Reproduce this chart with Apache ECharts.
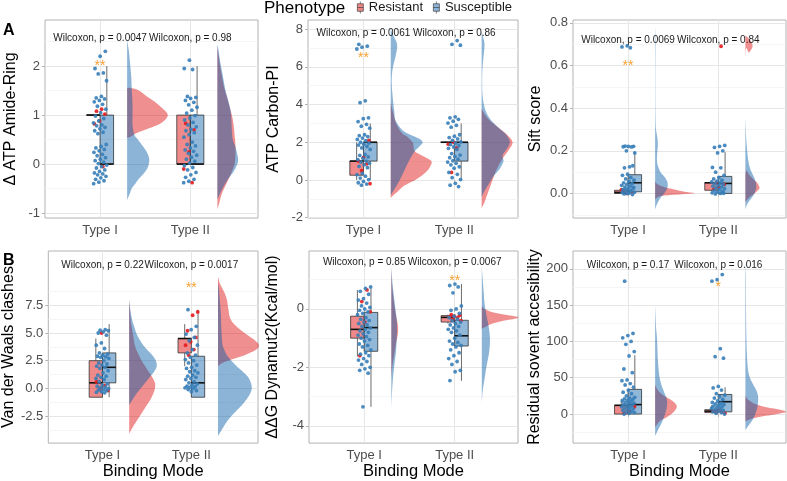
<!DOCTYPE html>
<html><head><meta charset="utf-8">
<script src="https://cdn.jsdelivr.net/npm/echarts@6.0.0/dist/echarts.min.js"></script>
<style>html,body{margin:0;padding:0;background:#fff}#c{width:787px;height:481px}</style>
</head><body><div id="c"></div><script>
// ---------- data ----------
const categories = ['Type I', 'Type II'];
const phenotypes = ['Resistant', 'Susceptible'];
const yTitles = ['Δ ATP Amide-Ring', 'ATP Carbon-PI', 'Sift score', 'Van der Waals clashes', 'ΔΔG Dynamut2(Kcal/mol)', 'Residual sovent accesibility'];
const yTicks = [[-1,0,1,2],[-2,0,2,4,6,8],[0,0.2,0.4,0.6,0.8],[-2.5,0,2.5,5,7.5],[-4,-2,0],[0,50,100,150,200]];
const yTickLabels = [['-1','0','1','2'],['-2','0','2','4','6','8'],['0.0','0.2','0.4','0.6','0.8'],['-2.5','0.0','2.5','5.0','7.5'],['-4','-2','0'],['0','50','100','150','200']];
const yMinor = [[-0.5,0.5,1.5,2.5],[-1,1,3,5,7],[-0.1,0.1,0.3,0.5,0.7],[-3.75,-1.25,1.25,3.75,6.25,8.75],[-3,-1,1],[-25,25,75,125,175]];
const pValues = [['0.0047','0.98'],['0.0061','0.86'],['0.0069','0.84'],['0.22','0.0017'],['0.85','0.0067'],['0.17','0.016']];
const pLabelY = [2.57, 7.78, 0.72, 11.1, 1.59, 204.5];
const signif = [[0,1,2.07,'**'],[1,1,6.7,'**'],[2,1,0.615,'**'],[3,2,9.4,'**'],[4,2,1.09,'**'],[5,2,180,'*']];

// points: [TypeI Resistant, TypeI Susceptible, TypeII Resistant, TypeII Susceptible]
const amideRingPoints = [
  [1.12,1.08,1.02,0.88,0.82,-0.05],
  [2.3,2.2,1.95,1.86,1.84,1.7,1.38,1.35,1.33,1.3,1.27,1.22,1.18,1.12,1.05,0.98,0.93,0.88,0.84,0.8,0.78,0.75,0.72,0.68,0.65,0.62,0.4,0.36,0.33,0.3,0.27,0.24,0.2,0.17,0.13,0.1,0.07,0.04,0.01,-0.02,-0.05,-0.08,-0.12,-0.15,-0.18,-0.2,-0.22,-0.25,-0.28,-0.31,-0.34,-0.37,-0.4],
  [0.83,0.7,0.25,-0.1,-0.38],
  [2.12,1.95,1.93,1.38,1.36,1.34,1.3,1.26,1.21,1.16,1.1,1.04,0.99,0.94,0.9,0.85,0.8,0.76,0.71,0.68,0.64,0.6,0.55,0.45,0.4,0.37,0.33,0.29,0.26,0.22,0.18,0.14,0.1,0.06,0.02,-0.03,-0.07,-0.12,-0.17,-0.22,-0.27,-0.31,-0.35,-0.38]
];
const carbonPiPoints = [
  [2.1,1.2,1.0,0.85,0.5,-0.2],
  [7.2,7.1,7.05,6.95,4.2,4.1,3.3,3.25,3.1,2.95,2.85,2.75,2.4,2.35,2.3,2.22,2.15,2.08,2.0,1.95,1.9,1.85,1.78,1.7,1.62,1.35,1.3,1.22,1.15,1.08,1.0,0.95,0.88,0.8,0.72,0.65,0.35,0.28,0.2,0.1,0.02,-0.08,-0.15,-0.22,-0.28],
  [2.0,1.9,1.7,0.4],
  [7.4,7.2,7.15,3.35,3.3,3.22,3.12,3.02,2.9,2.8,2.4,2.32,2.25,2.18,2.1,2.02,1.95,1.88,1.82,1.75,1.68,1.62,1.4,1.32,1.25,1.18,1.1,1.02,0.95,0.88,0.8,0.7,0.62,0.4,0.3,0.12,0.02,-0.18,-0.28,-0.35]
];
const siftPoints = [
  [0.012,0.006,0.0,0.018],
  [0.692,0.687,0.683,0.222,0.221,0.22,0.219,0.218,0.2,0.19,0.125,0.12,0.13,0.09,0.085,0.075,0.068,0.062,0.056,0.05,0.046,0.042,0.038,0.034,0.03,0.026,0.022,0.018,0.014,0.01,0.006,0.002,-0.002,-0.005,0.0,0.004,0.012,0.02,0.028],
  [0.69,0.05,0.042,0.03,0.02],
  [0.225,0.221,0.216,0.2,0.19,0.122,0.12,0.1,0.085,0.075,0.068,0.062,0.058,0.054,0.05,0.046,0.042,0.038,0.034,0.03,0.026,0.022,0.018,0.014,0.01,0.006,0.003,0.0,-0.002,0.001]
];
const vdwPoints = [
  [5.0,0.6,0.25,-0.05,-0.2],
  [5.3,5.25,5.2,5.1,5.0,4.8,4.1,3.9,3.6,3.2,3.1,3.0,2.9,2.85,2.8,2.7,2.5,2.3,2.2,2.1,2.0,1.9,1.8,1.6,1.4,1.2,1.1,1.0,0.9,0.8,0.6,0.4,0.3,0.2,0.1,0.05,0.0,-0.1,-0.15,-0.2,-0.3,-0.35,-0.4],
  [6.9,6.6,5.2,4.6,4.2,3.9,3.5,3.0],
  [7.1,5.6,5.3,4.9,4.6,4.3,3.9,3.5,3.2,3.0,2.8,2.6,2.5,2.3,2.1,1.9,1.8,1.6,1.5,1.4,1.2,1.1,1.0,0.9,0.8,0.6,0.5,0.4,0.3,0.2,0.15,0.1,0.05,0.0,-0.1,-0.2,-0.3]
];
const ddgPoints = [
  [0.65,0.25,-0.1,-0.45,-1.6],
  [0.75,0.7,0.6,0.5,0.35,0.3,0.2,0.1,0.05,0.0,-0.05,-0.1,-0.15,-0.2,-0.3,-0.35,-0.4,-0.45,-0.5,-0.55,-0.6,-0.65,-0.7,-0.75,-0.8,-0.85,-0.9,-0.95,-1.0,-1.05,-1.1,-1.2,-1.25,-1.3,-1.4,-1.5,-1.55,-1.6,-1.7,-1.75,-1.8,-1.9,-2.0,-2.05,-2.1,-2.2,-3.35],
  [-0.2,-0.22,-0.25,-0.28,-0.3,-0.35,-0.4],
  [0.85,0.8,0.75,0.55,0.1,0.0,-0.05,-0.15,-0.25,-0.3,-0.35,-0.4,-0.45,-0.5,-0.55,-0.6,-0.65,-0.7,-0.75,-0.8,-0.9,-1.0,-1.1,-1.15,-1.2,-1.25,-1.3,-1.4,-1.5,-1.6,-1.7,-1.8,-1.9,-2.1,-2.15,-2.45]
];
const rsaPoints = [
  [10,4,1],
  [183,111,108,105,100,96,86,80,62,57,47,46,42,40,37,33,30,28,25,23,22,21,20,19,18,17,16,15,14,13,12,11,10,9,8,7,6,5,4,3,2,1,0],
  [5,4,3,2,1],
  [192,185,183,90,79,77,38,36,33,28,26,24,22,20,18,16,15,14,13,12,11,10,9,8,7,6,5,4,3,2,1,0]
];

// box stats [min, q1, median, q3, max]
const amideRingBoxes = [[1,1,1,1,1],[0,0,0,1,2],[0,0,0,1,1],[0,0,0,1,2]];
const carbonPiBoxes = [[0,0.25,1,1,2],[0,1,2,2,3],[2,2,2,2,2],[0,1,2,2,3]];
const siftBoxes = [[0,0,0.005,0.015,0.02],[0,0.008,0.05,0.088,0.194],[0.01,0.015,0.05,0.051,0.06],[0,0,0.047,0.08,0.194]];
const vdwBoxes = [[-0.8,-0.8,0.5,2.5,4.5],[-0.8,0.5,1.9,3.2,5.8],[2.0,3.2,4.5,4.5,5.8],[-0.8,-0.8,0.5,2.9,7.1]];
const ddgBoxes = [[-1.63,-1.0,-0.7,-0.25,0.65],[-3.35,-1.45,-0.64,-0.12,0.71],[-0.5,-0.45,-0.29,-0.23,-0.2],[-2.46,-1.27,-0.92,-0.39,0.85]];
const rsaBoxes = [[0,0,12,12,21],[0,0,13,34,81],[1,2,4,6,12],[0,3,17,27,37]];

// half-violin densities [value, width]
const amideRingViolins = [
  [[0.53,0],[0.56,0.04],[0.63,0.1],[0.7,0.2],[0.77,0.3],[0.83,0.37],[0.92,0.43],[1.0,0.45],[1.07,0.43],[1.14,0.39],[1.22,0.34],[1.28,0.3],[1.38,0.22],[1.45,0.17],[1.5,0.13],[1.54,0.08],[1.56,0]],
  [[-0.73,0],[-0.6,0.03],[-0.5,0.05],[-0.4,0.09],[-0.3,0.13],[-0.2,0.18],[-0.1,0.22],[0,0.24],[0.1,0.245],[0.2,0.23],[0.3,0.2],[0.4,0.16],[0.5,0.12],[0.6,0.08],[0.8,0.06],[1.0,0.06],[1.2,0.06],[1.4,0.055],[1.6,0.05],[1.8,0.045],[2.0,0.035],[2.3,0.02],[2.53,0]],
  [[-0.92,0],[-0.8,0.02],[-0.6,0.05],[-0.4,0.1],[-0.2,0.15],[0,0.19],[0.2,0.2],[0.4,0.2],[0.6,0.19],[0.8,0.18],[1.0,0.16],[1.2,0.13],[1.4,0.1],[1.6,0.07],[1.8,0.05],[2.0,0.03],[2.2,0.015],[2.4,0]],
  [[-0.72,0],[-0.6,0.03],[-0.45,0.07],[-0.3,0.12],[-0.15,0.18],[0,0.22],[0.1,0.23],[0.2,0.22],[0.35,0.2],[0.5,0.17],[0.7,0.16],[0.9,0.155],[1.1,0.145],[1.3,0.12],[1.5,0.09],[1.7,0.07],[1.9,0.05],[2.1,0.03],[2.3,0.015],[2.45,0]]
];
const carbonPiViolins = [
  [[-0.97,0],[-0.9,0.01],[-0.6,0.08],[-0.3,0.15],[0,0.27],[0.3,0.36],[0.6,0.42],[0.97,0.45],[1.2,0.38],[1.5,0.27],[1.8,0.25],[2.0,0.24],[2.3,0.18],[2.5,0.12],[3.0,0.06],[3.5,0.03],[4.1,0]],
  [[-0.8,0],[-0.5,0.04],[0,0.1],[0.5,0.15],[1.0,0.2],[1.5,0.26],[1.8,0.32],[2.0,0.35],[2.2,0.31],[2.5,0.17],[2.8,0.1],[3.2,0.05],[3.6,0.04],[4.0,0.03],[4.5,0.02],[5.0,0.012],[5.5,0.012],[6.0,0.025],[6.5,0.05],[7.0,0.07],[7.3,0.065],[7.6,0.035],[8.0,0]],
  [[-1.5,0],[-1.2,0.03],[-0.8,0.06],[-0.4,0.09],[0,0.12],[0.4,0.15],[0.8,0.19],[1.2,0.24],[1.6,0.3],[2.0,0.34],[2.4,0.28],[2.8,0.18],[3.2,0.08],[3.6,0.02],[3.8,0]],
  [[-0.9,0],[-0.6,0.03],[-0.2,0.08],[0.2,0.13],[0.6,0.2],[1.0,0.24],[1.3,0.23],[1.6,0.27],[2.0,0.31],[2.4,0.27],[2.8,0.18],[3.2,0.1],[3.6,0.05],[4.0,0.025],[4.5,0.01],[5.0,0.006],[5.5,0.006],[6.0,0.01],[6.5,0.02],[7.0,0.03],[7.3,0.03],[7.6,0.015],[7.9,0]]
];
const siftViolins = [
  [[-0.03,0],[-0.02,0.02],[-0.01,0.1],[0,0.42],[0.005,0.38],[0.01,0.3],[0.02,0.2],[0.03,0.1],[0.04,0.04],[0.05,0.01],[0.06,0]],
  [[-0.075,0],[-0.05,0.02],[-0.02,0.06],[0,0.1],[0.02,0.13],[0.04,0.14],[0.06,0.13],[0.08,0.1],[0.1,0.06],[0.13,0.03],[0.16,0.02],[0.2,0.025],[0.23,0.03],[0.26,0.025],[0.3,0.01],[0.35,0.005],[0.45,0.003],[0.6,0.003],[0.7,0.005],[0.75,0.003],[0.78,0]],
  [[-0.04,0],[-0.02,0.04],[0,0.1],[0.02,0.15],[0.03,0.155],[0.05,0.13],[0.07,0.08],[0.09,0.04],[0.11,0.015],[0.14,0],[0.64,0],[0.66,0.04],[0.69,0.08],[0.72,0.05],[0.74,0]],
  [[-0.075,0],[-0.05,0.02],[-0.02,0.07],[0,0.1],[0.03,0.12],[0.06,0.11],[0.09,0.08],[0.12,0.05],[0.16,0.03],[0.2,0.02],[0.25,0.01],[0.3,0.005],[0.35,0]]
];
const vdwViolins = [
  [[-4.1,0],[-3.5,0.04],[-3,0.08],[-2.5,0.12],[-2,0.16],[-1.5,0.2],[-1,0.24],[-0.5,0.27],[0,0.29],[0.5,0.29],[1,0.26],[1.5,0.22],[2,0.18],[2.5,0.14],[3,0.11],[3.5,0.08],[4,0.06],[4.5,0.05],[5,0.04],[5.5,0.03],[6,0.02],[7,0.01],[8,0]],
  [[-1.5,0],[-1,0.04],[-0.5,0.08],[0,0.13],[0.5,0.18],[1,0.23],[1.5,0.28],[2,0.31],[2.5,0.3],[3,0.26],[3.5,0.2],[4,0.15],[4.5,0.11],[5,0.08],[5.5,0.06],[6,0.04],[6.5,0.025],[7,0.015],[7.5,0.007],[8,0]],
  [[2.0,0],[2.3,0.05],[2.6,0.15],[3.0,0.3],[3.5,0.43],[3.9,0.46],[4.3,0.42],[5,0.3],[5.5,0.22],[6,0.16],[6.5,0.13],[7,0.12],[7.5,0.11],[8,0.1],[8.5,0.08],[9,0.05],[9.5,0.02],[10.1,0]],
  [[-4.3,0],[-3.5,0.06],[-3,0.1],[-2.5,0.15],[-2,0.21],[-1.5,0.27],[-1,0.32],[-0.5,0.36],[0,0.38],[0.5,0.37],[1,0.34],[1.5,0.28],[2,0.21],[2.5,0.15],[3,0.1],[3.5,0.07],[4,0.05],[5,0.04],[6,0.035],[7,0.03],[8,0.02],[9,0.01],[9.6,0]]
];
const ddgViolins = [
  [[-2.4,0],[-2,0.01],[-1.6,0.03],[-1.2,0.05],[-0.9,0.07],[-0.7,0.075],[-0.5,0.07],[-0.2,0.05],[0.2,0.03],[0.6,0.015],[1,0.005],[1.4,0]],
  [[-3.4,0],[-3,0.005],[-2.5,0.015],[-2,0.03],[-1.5,0.05],[-1,0.06],[-0.7,0.062],[-0.4,0.06],[0,0.045],[0.4,0.03],[0.8,0.015],[1.2,0.005],[1.45,0]],
  [[-0.68,0],[-0.6,0.05],[-0.5,0.12],[-0.4,0.25],[-0.33,0.38],[-0.29,0.41],[-0.25,0.36],[-0.2,0.26],[-0.15,0.17],[-0.1,0.1],[-0.05,0.06],[0,0.03],[0.05,0.01],[0.1,0]],
  [[-3.2,0],[-2.8,0.01],[-2.4,0.03],[-2,0.05],[-1.5,0.08],[-1.1,0.09],[-0.8,0.085],[-0.5,0.07],[-0.2,0.05],[0.2,0.03],[0.6,0.02],[1,0.01],[1.45,0]]
];
const rsaViolins = [
  [[-18,0],[-10,0.05],[-5,0.12],[0,0.18],[5,0.22],[10,0.24],[15,0.22],[20,0.17],[25,0.1],[30,0.05],[35,0.02],[40,0]],
  [[-30,0],[-20,0.04],[-10,0.08],[0,0.11],[10,0.13],[20,0.13],[30,0.1],[40,0.07],[50,0.05],[60,0.04],[75,0.03],[90,0.025],[105,0.02],[120,0.01],[135,0.005],[150,0]],
  [[-10,0],[-6,0.08],[-3,0.2],[0,0.35],[3,0.45],[6,0.38],[9,0.25],[12,0.15],[15,0.09],[18,0.05],[21,0.02],[25,0]],
  [[-22,0],[-15,0.04],[-8,0.08],[0,0.11],[8,0.13],[16,0.14],[25,0.14],[33,0.12],[42,0.08],[50,0.05],[60,0.03],[75,0.02],[100,0.012],[130,0.008],[160,0.006],[180,0.006],[195,0.004],[210,0]]
];

const panelPoints = [amideRingPoints, carbonPiPoints, siftPoints, vdwPoints, ddgPoints, rsaPoints];
const panelBoxes = [amideRingBoxes, carbonPiBoxes, siftBoxes, vdwBoxes, ddgBoxes, rsaBoxes];
const panelViolins = [amideRingViolins, carbonPiViolins, siftViolins, vdwViolins, ddgViolins, rsaViolins];

// ---------- layout & style ----------
const grids = [[45,20,213,198],[308,20,210,198],[573,20,213,198],[45,251,213,198],[309,251,209,198],[573,251,213,198]];
const xRanges = [[0.39,2.75],[0.39,2.70],[0.39,2.75],[0.39,2.75],[0.39,2.70],[0.39,2.75]];
const yRanges = [[-1.1,2.94],[-2.02,8.49],[-0.115,0.813],[-4.94,12.4],[-4.59,1.98],[-40,224.5]];
const yNameGap = [26,26.5,29,26,28,29];
const FONT = '"Liberation Sans", Arial, Helvetica, sans-serif';
const VIOL_FILL = ['rgba(222,10,10,0.46)', 'rgba(0,88,166,0.45)'];
const BOX_FILL = ['rgba(225,20,20,0.5)', 'rgba(10,95,170,0.45)'];
const PT_COLOR = ['#E41A1C', '#377EB8'];
const VOFF = 0.3, BOXW = 0.15;

function jitter(k, g) {
  const f = ((k + 1) * 0.6180339887 + g * 0.2718) % 1;
  return (f - 0.5) * 0.15;
}
function catmull(pts, n) {
  const out = [];
  for (let i = 0; i < pts.length - 1; i++) {
    const p0 = pts[Math.max(i - 1, 0)], p1 = pts[i], p2 = pts[i + 1], p3 = pts[Math.min(i + 2, pts.length - 1)];
    for (let t = 0; t < n; t++) {
      const s = t / n, s2 = s * s, s3 = s2 * s;
      out.push([0, 1].map(d => 0.5 * (2 * p1[d] + (-p0[d] + p2[d]) * s + (2 * p0[d] - 5 * p1[d] + 4 * p2[d] - p3[d]) * s2 + (-p0[d] + 3 * p1[d] - 3 * p2[d] + p3[d]) * s3)));
    }
  }
  out.push(pts[pts.length - 1]);
  return out;
}

const KEY_ICON = 'path://M0,3L8,3L8,13L0,13Z M0,8L8,8 M4,0L4,3 M4,13L4,16';

const option = {
  animation: false,
  backgroundColor: '#fff',
  textStyle: { fontFamily: FONT },
  grid: [], xAxis: [], yAxis: [], series: [],
  legend: {
    data: [
      { name: 'Resistant', icon: KEY_ICON, itemStyle: { color: '#EF8585', borderColor: '#444', borderWidth: 0.7 } },
      { name: 'Susceptible', icon: KEY_ICON, itemStyle: { color: '#8CB3D9', borderColor: '#444', borderWidth: 0.7 } }
    ],
    left: 352, top: -4, itemWidth: 7, itemHeight: 12, itemGap: 10,
    textStyle: { fontSize: 13, color: '#1a1a1a', fontFamily: FONT }, selectedMode: false
  },
  graphic: [
    { type: 'text', left: 264, top: 0, style: { text: 'Phenotype', font: '17px ' + FONT, fill: '#000' } },
    { type: 'text', left: 3, top: 23, style: { text: 'A', font: 'bold 16px ' + FONT, fill: '#000' } },
    { type: 'text', left: 3, top: 253, style: { text: 'B', font: 'bold 16px ' + FONT, fill: '#000' } }
  ]
};

for (let p = 0; p < 6; p++) {
  const g = grids[p];
  option.grid.push({ left: g[0], top: g[1], width: g[2], height: g[3], show: true, borderColor: '#B3B3B3', borderWidth: 1, backgroundColor: 'transparent' });
  option.xAxis.push({
    type: 'value', gridIndex: p, min: xRanges[p][0], max: xRanges[p][1],
    axisLine: { show: false },
    axisTick: { show: true, customValues: [1, 2], length: 3, lineStyle: { color: '#B3B3B3' } },
    axisLabel: { show: true, customValues: [1, 2], formatter: v => categories[Math.round(v) - 1], fontSize: 13, color: '#4D4D4D', margin: 6, fontFamily: FONT },
    splitLine: { show: true, lineStyle: { color: '#E6E6E6', width: 1 } },
    name: p >= 3 ? 'Binding Mode' : '', nameLocation: 'middle', nameGap: 17,
    nameTextStyle: { fontSize: 16.5, color: '#000', fontFamily: FONT }
  });
  const ticks = yTicks[p], labs = yTickLabels[p];
  option.yAxis.push({
    type: 'value', gridIndex: p, min: yRanges[p][0], max: yRanges[p][1],
    axisLine: { show: false },
    axisTick: { show: true, customValues: ticks, length: 3, lineStyle: { color: '#B3B3B3' } },
    axisLabel: { show: true, customValues: ticks, formatter: v => { const i = ticks.findIndex(t => Math.abs(t - v) < 1e-9); return i >= 0 ? labs[i] : ''; }, fontSize: 13, color: '#4D4D4D', margin: 5, fontFamily: FONT },
    splitLine: { show: true, lineStyle: { color: '#E6E6E6', width: 1 } },
    name: yTitles[p], nameLocation: 'middle', nameGap: yNameGap[p],
    nameTextStyle: { fontSize: 16, color: '#000', fontFamily: FONT }
  });
  option.yAxis.push({
    type: 'value', gridIndex: p, min: yRanges[p][0], max: yRanges[p][1], position: 'left',
    axisLine: { show: false }, axisLabel: { show: false },
    axisTick: { show: false, customValues: yMinor[p] },
    splitLine: { show: true, lineStyle: { color: '#F1F1F1', width: 0.7 } }
  });
  const yi = 2 * p;
  // violins (red first, blue on top)
  for (let ph = 0; ph < 2; ph++) {
    const profs = [panelViolins[p][ph], panelViolins[p][2 + ph]];
    option.series.push({
      type: 'custom', name: phenotypes[ph], xAxisIndex: p, yAxisIndex: yi, clip: true, z: 2,
      itemStyle: { color: VIOL_FILL[ph] },
      data: [[1, 0], [2, 0]],
      renderItem: (params, api) => {
        const c = api.value(0);
        const prof = profs[params.dataIndex];
        const base = c + VOFF;
        const basePx = api.coord([base, 0])[0];
        const edge = prof.map(([y, w]) => api.coord([base + w, y]));
        const sm = catmull(edge, 6).map(q => [Math.max(q[0], basePx), q[1]]);
        sm.push(api.coord([base, prof[prof.length - 1][0]]));
        sm.push(api.coord([base, prof[0][0]]));
        return { type: 'polygon', shape: { points: sm }, style: { fill: VIOL_FILL[ph] } };
      }
    });
  }
  // boxes
  for (let ph = 0; ph < 2; ph++) {
    const b1 = panelBoxes[p][ph], b2 = panelBoxes[p][2 + ph];
    option.series.push({
      type: 'custom', name: phenotypes[ph], xAxisIndex: p, yAxisIndex: yi, z: 3,
      itemStyle: { color: BOX_FILL[ph] },
      data: [[1].concat(b1), [2].concat(b2)],
      renderItem: (params, api) => {
        const c = api.value(0);
        const mn = api.value(1), q1 = api.value(2), md = api.value(3), q3 = api.value(4), mx = api.value(5);
        const x0 = ph === 0 ? c - BOXW : c, x1 = ph === 0 ? c : c + BOXW, xm = (x0 + x1) / 2;
        const tl = api.coord([x0, q3]), br = api.coord([x1, q1]);
        const wt = api.coord([xm, mx]), wq3 = api.coord([xm, q3]), wb = api.coord([xm, mn]), wq1 = api.coord([xm, q1]);
        const m0 = api.coord([x0, md]), m1 = api.coord([x1, md]);
        return { type: 'group', children: [
          { type: 'line', shape: { x1: wq3[0], y1: wq3[1], x2: wt[0], y2: wt[1] }, style: { stroke: '#6b6b6b', lineWidth: 1 } },
          { type: 'line', shape: { x1: wq1[0], y1: wq1[1], x2: wb[0], y2: wb[1] }, style: { stroke: '#6b6b6b', lineWidth: 1 } },
          { type: 'rect', shape: { x: tl[0], y: tl[1], width: br[0] - tl[0], height: Math.max(br[1] - tl[1], 0) }, style: { fill: BOX_FILL[ph], stroke: '#333', lineWidth: 0.8 } },
          { type: 'line', shape: { x1: m0[0], y1: m0[1], x2: m1[0], y2: m1[1] }, style: { stroke: '#111', lineWidth: 1.6 } }
        ]};
      }
    });
  }
  // points
  for (let ph = 0; ph < 2; ph++) {
    const data = [];
    for (let ci = 0; ci < 2; ci++) {
      const arr = panelPoints[p][ci * 2 + ph];
      arr.forEach((v, k) => data.push([ci + 1 + jitter(k, ci * 2 + ph + p), v]));
    }
    option.series.push({
      type: 'scatter', name: phenotypes[ph], xAxisIndex: p, yAxisIndex: yi, z: 4,
      symbol: 'circle', symbolSize: 3.8, itemStyle: { color: PT_COLOR[ph], opacity: 0.9 },
      data: data, silent: true
    });
  }
  // text annotations
  const texts = [[1, pLabelY[p], 'Wilcoxon, p = ' + pValues[p][0], 0], [2, pLabelY[p], 'Wilcoxon, p = ' + pValues[p][1], 0]];
  signif.filter(s => s[0] === p).forEach(s => texts.push([s[1], s[2], s[3], 1]));
  option.series.push({
    type: 'custom', name: 'annot', xAxisIndex: p, yAxisIndex: yi, z: 5, silent: true,
    data: texts.map(t => [t[0], t[1]]),
    renderItem: (params, api) => {
      const t = texts[params.dataIndex];
      const pt = api.coord([t[0], t[1]]);
      if (t[3] === 0) {
        return { type: 'text', x: pt[0], y: pt[1], style: { text: t[2], fill: '#1a1a1a', font: '10px ' + FONT, align: 'center', verticalAlign: 'middle' } };
      }
      return { type: 'text', x: pt[0], y: pt[1] + 4, style: { text: t[2], fill: '#F5A030', font: '14px ' + FONT, align: 'center', verticalAlign: 'middle' } };
    }
  });
}

const chart = echarts.init(document.getElementById('c'), null, { renderer: 'canvas' });
chart.setOption(option);
</script></body></html>
